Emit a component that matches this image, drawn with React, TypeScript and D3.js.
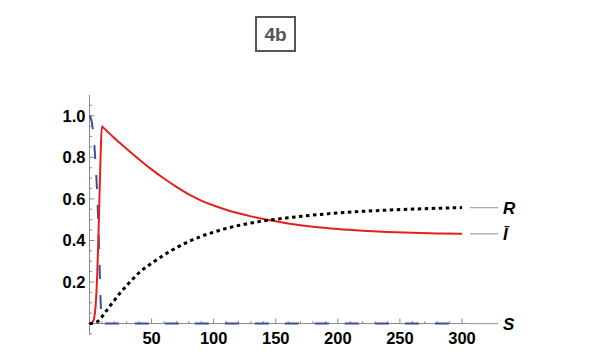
import React from "react";
import * as d3 from "d3";

const tValues = [0, 1, 2, 3, 4, 5, 6, 7, 8, 9, 10, 11, 12, 15, 20, 25, 30, 40, 50, 60, 70, 80, 90, 100, 110, 120, 130, 140, 150, 160, 180, 200, 220, 240, 260, 280, 300];
const sValues = [1.0, 0.99, 0.965, 0.92, 0.85, 0.76, 0.65, 0.5, 0.3, 0.1, 0.02, 0.004, 0, 0, 0, 0, 0, 0, 0, 0, 0, 0, 0, 0, 0, 0, 0, 0, 0, 0, 0, 0, 0, 0, 0, 0, 0];
const iValues = [0, 0.001, 0.004, 0.012, 0.035, 0.09, 0.2, 0.38, 0.6, 0.82, 0.95, 0.944, 0.938, 0.921, 0.893, 0.866, 0.84, 0.79, 0.742, 0.698, 0.658, 0.622, 0.592, 0.568, 0.548, 0.531, 0.516, 0.503, 0.492, 0.482, 0.466, 0.455, 0.447, 0.441, 0.437, 0.434, 0.432];
const rValues = [0, 0.0005, 0.001, 0.002, 0.003, 0.005, 0.008, 0.012, 0.017, 0.024, 0.032, 0.04, 0.048, 0.073, 0.112, 0.15, 0.183, 0.245, 0.29, 0.33, 0.365, 0.395, 0.42, 0.44, 0.458, 0.472, 0.484, 0.494, 0.502, 0.509, 0.522, 0.532, 0.54, 0.546, 0.551, 0.555, 0.558];

const xMajorTicks = [50, 100, 150, 200, 250, 300];
const yMajorTicks = [0.2, 0.4, 0.6, 0.8, 1.0];
const legendLabels = ["R", "Ī", "S"];
const title = "4b";

export default function App() {
  const x = d3.scaleLinear().domain([0, 300]).range([89.5, 462]);
  const y = d3.scaleLinear().domain([-0.055, 1.1]).range([335, 95]);

  const mk = (vals: number[]) =>
    d3
      .line<number>()
      .x((_, i) => x(tValues[i]))
      .y((v) => y(v))
      .curve(d3.curveMonotoneX)(vals) as string;

  const xMinor = d3.range(10, 306, 10).filter((v) => v % 50 !== 0);
  const yMinor = d3.range(-0.05, 1.1, 0.05).map((v) => Math.round(v * 100) / 100).filter((v) => Math.abs(Math.round(v * 10) / 10 - v) > 1e-6 || Math.round(v * 10) % 2 === 1);

  const axisColor = "#888";
  const font = "'Liberation Sans', Arial, sans-serif";
  const x0 = x(0);
  const y0 = y(0);
  const xEnd = x(306.5);
  const legendX1 = 470;
  const legendX2 = 498;
  const lastI = iValues[iValues.length - 1];
  const lastR = rValues[rValues.length - 1];
  const legendYs = [y(lastR), y(lastI), y0];

  return (
    <svg width={594} height={360} style={{ position: "absolute", left: 0, top: 0, background: "#fff" }}>
      <rect x={0} y={0} width={594} height={360} fill="#fff" />
      {/* title box */}
      <rect x={256} y={17} width={39} height={34} fill="none" stroke="#555" strokeWidth={2} />
      <text x={275.5} y={41} textAnchor="middle" fontFamily={font} fontWeight="bold" fontSize={19} fill="#555">
        {title}
      </text>

      {/* axes */}
      <line x1={x0} x2={x0} y1={y(1.1)} y2={y(-0.055)} stroke={axisColor} strokeWidth={1} />
      <line x1={88} x2={xEnd} y1={y0} y2={y0} stroke={axisColor} strokeWidth={1} />
      {xMajorTicks.map((t) => (
        <g key={"xm" + t}>
          <line x1={x(t)} x2={x(t)} y1={y0} y2={y0 - 5} stroke={axisColor} />
          <text x={x(t)} y={344} textAnchor="middle" fontFamily={font} fontWeight="bold" fontSize={16.5} fill="#000">
            {t}
          </text>
        </g>
      ))}
      {xMinor.map((t) => (
        <line key={"xn" + t} x1={x(t)} x2={x(t)} y1={y0} y2={y0 - 2.5} stroke={axisColor} />
      ))}
      {yMajorTicks.map((v) => (
        <g key={"ym" + v}>
          <line x1={x0} x2={x0 + 5} y1={y(v)} y2={y(v)} stroke={axisColor} />
          <text x={x0 - 4} y={y(v) + 6} textAnchor="end" fontFamily={font} fontWeight="bold" fontSize={16.5} fill="#000">
            {v.toFixed(1)}
          </text>
        </g>
      ))}
      {yMinor.map((v) => (
        <line key={"yn" + v} x1={x0} x2={x0 + 2.5} y1={y(v)} y2={y(v)} stroke={axisColor} />
      ))}

      {/* legend lines */}
      {legendYs.map((ly, i) => (
        <g key={"lg" + i}>
          <line x1={legendX1} x2={legendX2} y1={ly} y2={ly} stroke="#aaa" strokeWidth={1.3} />
          <text x={503} y={ly + 6} fontFamily={font} fontWeight="bold" fontStyle="italic" fontSize={17} fill="#000">
            {legendLabels[i]}
          </text>
        </g>
      ))}

      {/* series */}
      <path d={mk(sValues)} fill="none" stroke="#3b4f9c" strokeWidth={2} strokeDasharray="14,16" />
      <path d={mk(iValues)} fill="none" stroke="#e3201c" strokeWidth={2} />
      <path d={mk(rValues)} fill="none" stroke="#000" strokeWidth={3} strokeDasharray="3.5,3.5" />
    </svg>
  );
}
